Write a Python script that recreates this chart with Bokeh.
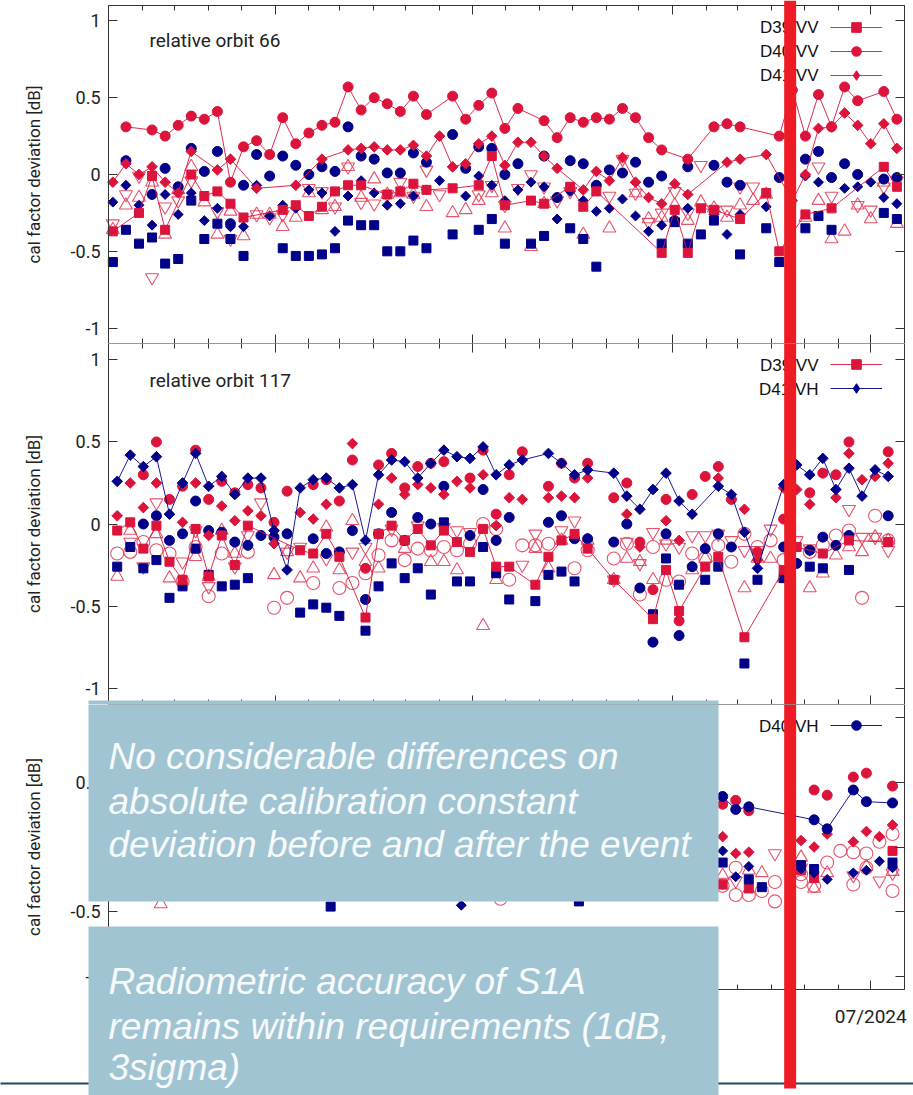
import pandas as pd
from bokeh.plotting import figure
from bokeh.layouts import column
from bokeh.models import (Range1d, FixedTicker, DatetimeTickFormatter, LinearAxis,
                          DatetimeAxis, BoxAnnotation, Label, Legend, LegendItem,
                          ColumnDataSource)
from bokeh.embed import file_html
from bokeh.resources import INLINE

N = None

# ---------------- data ----------------
# relative orbit 66 (12-day repeat)
P1_DATES = ["2022-07-24", "2022-08-05",
            "2022-08-17", "2022-08-29", "2022-09-10", "2022-09-22", "2022-10-04", "2022-10-16", "2022-10-28", "2022-11-09", "2022-11-21", "2022-12-03",
            "2022-12-15", "2022-12-27", "2023-01-08", "2023-01-20", "2023-02-01", "2023-02-13", "2023-02-25", "2023-03-09", "2023-03-21", "2023-04-02",
            "2023-04-14", "2023-04-26", "2023-05-08", "2023-05-20", "2023-06-01", "2023-06-13", "2023-06-25", "2023-07-07", "2023-07-19", "2023-07-31",
            "2023-08-12", "2023-08-24", "2023-09-05", "2023-09-17", "2023-09-29", "2023-10-11", "2023-10-23", "2023-11-04", "2023-11-16", "2023-11-28",
            "2023-12-10", "2023-12-22", "2024-01-03", "2024-01-15", "2024-01-27", "2024-02-08", "2024-02-20", "2024-03-03", "2024-03-15", "2024-03-27",
            "2024-04-08", "2024-04-20", "2024-05-02", "2024-05-14", "2024-05-26", "2024-06-07", "2024-06-19", "2024-07-01", "2024-07-13", "2024-07-25"]
P1_D40VV = [N, N,
            0.31, N, 0.29, 0.25, 0.32, 0.38, 0.36, 0.41, -0.05, 0.18,
            0.22, 0.13, 0.37, 0.20, 0.27, 0.32, 0.34, 0.57, 0.42, 0.50,
            0.46, 0.41, 0.51, 0.39, N, 0.51, 0.36, 0.45, 0.53, 0.30,
            0.43, N, 0.35, 0.24, 0.37, 0.34, 0.37, 0.36, 0.43, 0.37,
            0.24, 0.16, N, 0.10, N, 0.31, 0.33, 0.31, N, N,
            0.25, 0.55, 0.25, 0.52, 0.31, 0.57, 0.48, N, 0.54, 0.36]
P1_D41VV = [N, -0.05,
            0.07, 0.00, 0.05, -0.05, -0.12, 0.15, N, 0.03, 0.10, N,
            -0.09, N, N, -0.07, N, 0.10, N, 0.16, 0.17, 0.18,
            0.16, 0.16, 0.19, 0.12, 0.25, 0.05, 0.07, 0.20, 0.25, 0.06,
            0.21, 0.21, 0.12, 0.04, N, -0.10, 0.02, -0.04, 0.11, -0.05,
            -0.15, -0.19, -0.06, -0.13, N, N, 0.08, 0.10, N, 0.13,
            N, -0.17, 0.00, 0.30, 0.31, 0.40, 0.32, 0.20, 0.33, 0.17]
P1_D39VV = [N, -0.37,
            N, -0.25, -0.01, -0.36, N, 0.00, -0.14, -0.11, -0.19, -0.28,
            N, N, -0.23, -0.20, -0.27, -0.21, -0.11, -0.07, -0.07, N,
            -0.13, -0.11, -0.06, -0.10, N, -0.09, N, -0.07, 0.12, -0.20,
            N, -0.17, -0.19, N, -0.08, -0.21, -0.11, N, N, N,
            N, -0.51, -0.23, -0.51, -0.22, -0.23, N, -0.29, N, -0.12,
            -0.50, N, -0.26, N, -0.22, N, N, N, 0.05, -0.08]
P1_D40VH = [N, N,
            0.09, N, -0.13, 0.04, -0.08, 0.17, 0.02, 0.15, -0.32, -0.07,
            0.13, -0.01, 0.12, 0.06, 0.00, 0.05, 0.02, 0.31, 0.12, 0.10,
            0.01, 0.01, 0.14, 0.08, N, 0.26, 0.04, 0.18, 0.17, 0.00,
            0.07, N, 0.12, -0.15, 0.09, 0.07, -0.07, 0.03, 0.01, 0.08,
            -0.05, -0.01, -0.30, 0.05, N, 0.06, -0.05, -0.07, N, N,
            -0.02, N, 0.10, 0.15, -0.02, 0.07, 0.00, N, -0.03, -0.02]
P1_D41VH = [N, -0.18,
            -0.07, -0.20, -0.33, -0.13, -0.26, -0.12, -0.30, -0.22, -0.34, -0.34,
            -0.07, -0.27, -0.20, -0.22, -0.10, -0.12, -0.37, -0.14, -0.04, -0.12,
            -0.20, -0.19, -0.14, -0.10, -0.04, 0.05, -0.14, -0.01, -0.07, -0.17,
            -0.10, -0.05, -0.08, -0.29, -0.11, -0.17, -0.24, -0.22, -0.16, -0.27,
            -0.37, -0.33, N, -0.22, N, -0.26, -0.39, -0.26, N, -0.21,
            N, N, -0.01, -0.05, N, -0.09, -0.08, -0.05, -0.15, -0.19]
P1_D39VH = [N, -0.57,
            -0.36, -0.45, -0.41, -0.58, -0.55, -0.17, -0.42, -0.32, -0.42, -0.53,
            N, N, -0.48, -0.53, -0.53, -0.52, -0.48, -0.30, -0.33, -0.33,
            -0.50, -0.50, -0.43, -0.48, N, -0.39, N, -0.36, -0.29, -0.45,
            N, -0.45, -0.40, N, -0.35, -0.42, -0.60, N, N, N,
            N, -0.45, -0.31, -0.45, -0.39, -0.30, N, -0.52, N, -0.35,
            -0.57, N, -0.35, -0.27, -0.36, N, N, N, -0.25, -0.29]
P1_UP = [N, -0.36,
         -0.20, -0.15, -0.05, -0.39, -0.10, 0.05, -0.18, -0.39, -0.24, -0.40,
         -0.26, -0.26, -0.34, -0.28, -0.12, -0.23, -0.21, 0.05, -0.15, -0.03,
         -0.13, -0.12, -0.13, -0.21, N, -0.25, -0.23, -0.17, -0.12, -0.35,
         N, -0.47, -0.19, N, N, -0.39, N, -0.35, N, -0.12,
         -0.29, -0.28, -0.20, -0.30, -0.18, -0.22, -0.28, -0.20, -0.17, -0.13,
         N, N, -0.28, -0.17, -0.42, -0.37, -0.20, -0.29, -0.05, -0.32]
P1_DOWN = [N, -0.32,
           -0.13, -0.01, -0.67, -0.21, -0.17, -0.04, N, -0.24, -0.42, N,
           -0.26, -0.28, -0.26, N, -0.09, -0.11, -0.21, 0.05, -0.18, -0.19,
           -0.13, -0.05, -0.14, 0.03, -0.13, N, N, -0.13, -0.07, -0.20,
           -0.09, 0.00, -0.08, -0.17, -0.11, N, N, -0.14, 0.10, -0.12,
           -0.31, -0.25, -0.11, -0.25, 0.06, -0.23, -0.23, -0.08, -0.08, N,
           N, N, N, 0.05, -0.14, N, -0.20, -0.23, -0.08, -0.04]

# relative orbit 117
P2_DATES = ["2022-07-28",
            "2022-08-09", "2022-08-21", "2022-09-02", "2022-09-14", "2022-09-26", "2022-10-08", "2022-10-20", "2022-11-01", "2022-11-13", "2022-11-25",
            "2022-12-07", "2022-12-19", "2022-12-31", "2023-01-12", "2023-01-24", "2023-02-05", "2023-02-17", "2023-03-01", "2023-03-13", "2023-03-25",
            "2023-04-06", "2023-04-18", "2023-04-30", "2023-05-12", "2023-05-24", "2023-06-05", "2023-06-17", "2023-06-29", "2023-07-11", "2023-07-23",
            "2023-08-04", "2023-08-16", "2023-08-28", "2023-09-09", "2023-09-21", "2023-10-03", "2023-10-15", "2023-10-27", "2023-11-08", "2023-11-20",
            "2023-12-02", "2023-12-14", "2023-12-26", "2024-01-07", "2024-01-19", "2024-01-31", "2024-02-12", "2024-02-24", "2024-03-07", "2024-03-19",
            "2024-03-31", "2024-04-12", "2024-04-24", "2024-05-06", "2024-05-18", "2024-05-30", "2024-06-11", "2024-06-23", "2024-07-05", "2024-07-17"]
P2_D41VH = [N,
            0.26, 0.42, 0.35, 0.41, 0.06, 0.25, 0.43, 0.23, 0.29, 0.18,
            0.28, 0.28, -0.04, -0.28, 0.22, 0.27, 0.28, 0.22, 0.24, -0.10,
            0.30, 0.39, 0.38, 0.28, 0.37, 0.45, 0.41, 0.40, 0.47, 0.30,
            0.36, 0.39, N, 0.43, 0.37, 0.30, 0.33, N, 0.31, 0.17,
            0.09, 0.21, 0.31, 0.14, 0.06, N, 0.23, 0.18, -0.05, -0.27,
            N, 0.24, 0.36, 0.30, 0.40, 0.21, 0.34, 0.17, 0.33, 0.29]
P2_D39VV = [N,
            -0.04, 0.01, -0.15, -0.01, -0.23, -0.34, -0.03, -0.32, -0.07, -0.25,
            -0.01, N, N, N, -0.16, -0.18, -0.06, -0.20, N, -0.57,
            -0.06, -0.01, -0.10, -0.03, -0.13, -0.04, -0.11, -0.17, -0.03, -0.26,
            -0.26, N, -0.37, -0.20, -0.10, -0.06, -0.15, N, -0.34, N,
            N, -0.58, -0.28, -0.53, N, -0.26, -0.20, N, -0.69, N,
            N, -0.28, -0.14, N, -0.18, N, -0.10, N, N, -0.11]
P2_D40VV = [N,
            N, N, 0.30, 0.50, 0.15, 0.23, 0.45, 0.15, 0.26, 0.19,
            0.24, 0.22, 0.01, 0.20, N, 0.24, 0.27, 0.14, 0.39, -0.27,
            0.36, 0.43, 0.22, 0.35, 0.37, 0.38, N, 0.28, 0.45, 0.06,
            0.30, 0.44, N, 0.23, 0.37, 0.28, 0.37, N, 0.16, 0.25,
            -0.11, -0.40, 0.15, -0.59, 0.18, 0.29, 0.35, 0.15, N, -0.17,
            N, 0.03, N, 0.19, 0.31, 0.30, 0.50, N, N, 0.44]
P2_D41VV = [N,
            0.05, 0.25, 0.10, 0.25, N, 0.01, 0.25, -0.07, 0.11, 0.02,
            0.08, 0.05, -0.12, N, 0.07, 0.03, 0.12, N, 0.49, N,
            0.12, 0.28, 0.18, 0.24, 0.22, 0.18, 0.26, 0.22, 0.30, -0.01,
            0.16, 0.15, N, 0.16, 0.17, 0.16, 0.28, N, N, 0.06,
            -0.14, N, 0.02, -0.10, N, N, 0.28, 0.15, 0.09, -0.22,
            N, 0.22, 0.21, 0.12, N, 0.16, 0.43, 0.27, 0.29, 0.37]
P2_D40VH = [N,
            N, N, 0.00, 0.05, -0.10, -0.06, 0.14, -0.04, -0.05, -0.11,
            -0.13, -0.07, -0.08, -0.06, N, -0.09, -0.18, -0.17, -0.04, -0.46,
            -0.06, 0.07, -0.10, 0.04, 0.00, 0.23, N, -0.07, 0.21, -0.10,
            0.04, N, N, 0.01, 0.05, -0.09, -0.09, N, -0.11, 0.00,
            -0.39, -0.72, -0.06, -0.68, -0.26, -0.15, -0.06, -0.14, N, N,
            N, -0.14, -0.24, -0.16, -0.08, -0.13, -0.07, N, N, 0.05]
P2_D39VH = [N,
            -0.26, -0.14, -0.27, -0.22, -0.45, -0.38, -0.15, -0.31, -0.38, -0.37,
            -0.33, N, N, N, -0.54, -0.49, -0.51, -0.56, N, -0.65,
            -0.38, -0.24, -0.33, -0.27, -0.43, 0.01, -0.35, -0.35, -0.14, -0.30,
            -0.46, N, -0.47, -0.31, -0.29, -0.35, N, N, N, N,
            N, -0.55, -0.21, -0.37, N, -0.34, -0.26, N, -0.85, -0.34,
            N, -0.33, N, -0.26, -0.27, N, -0.28, N, N, N]
P2_CIRC = [N,
           -0.18, -0.17, -0.11, -0.16, -0.18, -0.35, -0.14, -0.44, -0.18, N,
           -0.17, N, -0.51, -0.45, N, -0.36, N, -0.39, -0.36, -0.30,
           -0.19, -0.10, -0.22, -0.15, -0.16, -0.14, -0.16, -0.12, 0.00, -0.03,
           -0.34, -0.13, -0.13, -0.12, N, -0.27, -0.16, N, -0.21, -0.12,
           -0.43, -0.14, -0.34, -0.35, -0.18, -0.21, -0.13, -0.23, -0.06, -0.14,
           -0.10, -0.22, N, -0.17, -0.13, -0.07, -0.04, -0.45, 0.05, -0.10]
P2_UP = [N,
         -0.32, -0.04, N, -0.06, -0.33, N, -0.20, -0.32, -0.04, -0.18,
         N, N, -0.31, -0.17, -0.33, -0.27, -0.02, -0.28, 0.02, -0.23,
         -0.27, N, -0.15, N, -0.23, -0.23, -0.28, N, -0.62, -0.34,
         N, N, -0.15, -0.27, -0.10, N, -0.10, N, -0.34, -0.21,
         -0.23, -0.34, -0.10, N, -0.28, -0.21, N, N, -0.39, -0.21,
         -0.21, -0.33, N, -0.39, -0.30, -0.19, -0.14, -0.17, -0.08, -0.10]
P2_DOWN = [N,
           N, -0.11, -0.26, 0.13, N, -0.23, -0.04, -0.38, N, -0.26,
           -0.07, 0.13, N, -0.17, -0.14, N, -0.21, N, -0.17, -0.14,
           N, -0.03, N, -0.01, N, -0.02, -0.04, -0.05, N, N,
           N, -0.25, -0.06, N, -0.04, 0.02, N, N, -0.34, -0.11,
           -0.24, -0.05, -0.12, -0.14, -0.07, -0.07, -0.06, -0.10, -0.16, -0.16,
           -0.03, N, -0.10, -0.15, N, N, 0.09, -0.08, -0.08, -0.16]

# third panel (only the part not hidden by the text boxes)
P3_DATES = ["2022-09-18", "2023-02-21", "2023-06-21", "2023-07-27", "2023-10-07",
            "2024-02-04", "2024-02-16", "2024-02-28", "2024-03-11", "2024-03-23",
            "2024-04-04", "2024-04-16", "2024-04-28", "2024-05-10", "2024-05-22",
            "2024-06-03", "2024-06-15", "2024-06-27", "2024-07-09", "2024-07-21"]
P3_D40VH = [N, N, N, N, N, 0.40, 0.39, 0.29, 0.31, N, N, N, N, 0.21, 0.14, N, 0.44, 0.35, N, 0.34]
P3_D40VV = [N, N, N, N, N, N, 0.33, 0.36, 0.28, N, N, N, N, 0.44, 0.40, N, 0.54, 0.57, N, 0.47]
P3_D41VV = [N, N, N, N, N, N, 0.08, -0.05, -0.04, N, N, N, 0.05, 0.00, 0.10, N, 0.04, 0.12, 0.08, 0.17]
P3_D41VH = [N, N, -0.45, N, N, N, -0.03, -0.23, -0.15, N, N, N, -0.17, -0.20, -0.25, N, -0.20, -0.18, -0.11, -0.16]
P3_D39VH = [N, -0.46, N, N, -0.42, N, -0.12, N, -0.25, -0.31, N, N, -0.14, -0.17, N, N, N, N, N, -0.12]
P3_D39VV = [N, N, N, N, N, N, -0.29, N, -0.32, N, N, N, -0.18, -0.24, N, N, N, N, N, -0.03]
P3_CIRC = [N, N, N, -0.40, N, N, -0.30, -0.16, -0.37, -0.34, -0.27, N, -0.27, -0.30, -0.12, -0.03, -0.04, -0.05, 0.04, 0.10]
P3_CIRC2 = [N, N, N, N, N, N, N, -0.37, N, N, -0.42, N, -0.21, N, N, N, -0.29, -0.16, N, -0.34]
P3_UP = [-0.44, N, N, N, N, N, -0.22, N, -0.18, -0.20, N, N, -0.08, -0.32, -0.20, N, N, -0.15, N, -0.19]
P3_DOWN = [N, N, N, N, N, N, -0.27, -0.26, N, N, -0.05, N, -0.16, N, N, N, -0.22, N, -0.26, -0.20]

X_START, X_END = "2022-08-01", "2024-08-01"
Y_MIN, Y_MAX = -1.1, 1.1
MAJOR_TICKS = ["2023-01-01", "2023-07-01", "2024-01-01", "2024-07-01"]
Y_TICKS = [-1.0, -0.5, 0.0, 0.5, 1.0]
Y_TICK_LABELS = ["-1", "-0.5", "0", "0.5", "1"]
Y_TITLE = "cal factor deviation [dB]"
EVENT_DATE = "2024-04-18"
TEXT_BOX_1 = ["No considerable differences on", "absolute calibration constant",
              "deviation before and after the event"]
TEXT_BOX_2 = ["Radiometric accuracy of S1A", "remains within requirements (1dB,", "3sigma)"]

# ---------------- styling / layout ----------------
RED = "#dc143c"
NAVY = "#00008b"
OPEN = "#e2405c"
EVENT_RED = "#ed1b24"
BOX = "#a1c4d3"
FOOTER = "#1c4862"
TXT = "#222222"
FRAME = "#333333"
DAY = 86400000.0
WIDTH = 913
PX_LEFT, PX_RIGHT = 108, 904      # plot box left / right edge in the page
BASE_FIX = 0.37                   # baseline correction (fraction of font size)


def ms(d):
    return pd.Timestamp(d).value / 1e6


MINOR_TICKS = [ms(d) for d in pd.date_range(X_START, X_END, freq="MS")]
FMT_KEYS = ["microseconds", "milliseconds", "seconds", "minsec", "minutes",
            "hourmin", "hours", "days", "months", "years"]


def x_extent():
    a, b = ms(X_START), ms(X_END)
    s = (b - a) / (PX_RIGHT - PX_LEFT)
    return a - PX_LEFT * s, b + (WIDTH - PX_RIGHT) * s


def y_extent(py_top, py_bot, height):
    s = (Y_MAX - Y_MIN) / (py_bot - py_top)
    return Y_MIN - (height - py_bot) * s, Y_MAX + py_top * s


def text(p, x, y, t, size, font="Roboto", color=TXT, align="left", style="normal", level="annotation"):
    # y: alphabetic baseline, measured upward from the panel bottom
    p.add_layout(Label(x=x, y=y + BASE_FIX * size, x_units="screen", y_units="screen", text=t,
                       text_align=align, text_baseline="alphabetic", text_font=font,
                       text_font_size=f"{size}px", text_font_style=style,
                       text_color=color, level=level))


def tick_style(ax, show, size="18px", ticks=True):
    ax.axis_line_color = FRAME
    ax.axis_line_width = 1
    ax.major_tick_in = 9 if ticks else 0
    ax.major_tick_out = 0
    ax.minor_tick_in = 5 if ticks else 0
    ax.minor_tick_out = 0
    ax.major_tick_line_color = FRAME
    ax.minor_tick_line_color = FRAME
    if show:
        ax.major_label_text_font = "Roboto"
        ax.major_label_text_font_size = size
        ax.major_label_text_color = TXT
    else:
        ax.major_label_text_font_size = "0px"
        ax.major_label_text_alpha = 0
        ax.major_label_standoff = 0


def make_panel(height, py_top, py_bot, top_ticks, x_labels):
    p = figure(width=WIDTH, height=height, x_axis_type="datetime",
               x_range=Range1d(*x_extent()), y_range=Range1d(*y_extent(py_top, py_bot, height)),
               output_backend="svg", toolbar_location=None, min_border=0,
               min_border_left=0, min_border_right=0, min_border_top=0, min_border_bottom=0,
               outline_line_color=None,
               background_fill_color="white", border_fill_color="white")
    p.xgrid.visible = False
    p.ygrid.visible = False
    xbounds = (ms(X_START), ms(X_END))
    xt = FixedTicker(ticks=[ms(t) for t in MAJOR_TICKS], minor_ticks=MINOR_TICKS)
    yt = FixedTicker(ticks=Y_TICKS, minor_ticks=[])
    fmt = DatetimeTickFormatter(**{k: "%m/%Y" for k in FMT_KEYS})
    xa = p.xaxis[0]
    xa.ticker = xt
    xa.formatter = fmt
    xa.fixed_location = Y_MIN
    xa.bounds = xbounds
    tick_style(xa, x_labels, size="19px")
    if x_labels:
        xa.major_label_standoff = 15
    ya = p.yaxis[0]
    ya.ticker = yt
    ya.major_label_overrides = dict(zip(Y_TICKS, Y_TICK_LABELS))
    ya.fixed_location = ms(X_START)
    ya.bounds = (Y_MIN, Y_MAX)
    tick_style(ya, True)
    ya.major_label_standoff = 8
    ra = LinearAxis(ticker=yt, fixed_location=ms(X_END), bounds=(Y_MIN, Y_MAX))
    tick_style(ra, False)
    p.add_layout(ra, "right")
    ta = DatetimeAxis(ticker=xt, formatter=fmt, fixed_location=Y_MAX, bounds=xbounds)
    tick_style(ta, False, ticks=top_ticks)
    p.add_layout(ta, "above")
    # y-axis title
    p.add_layout(Label(x=33, y=height - (py_top + py_bot) / 2, x_units="screen", y_units="screen",
                       text=Y_TITLE, angle=90, angle_units="deg", text_align="center",
                       text_baseline="middle", text_font="Roboto", text_font_size="17px",
                       text_color=TXT))
    return p


def series(p, dates, vals, marker, color, filled, size, angle=0.0, line=False, key_marker=None):
    xs = [ms(d) for d, v in zip(dates, vals) if v is not None]
    ys = [v for v in vals if v is not None]
    src = ColumnDataSource(dict(x=xs, y=ys))
    rl = None
    if line:
        rl = p.line("x", "y", source=src, line_color=color, line_width=1, line_alpha=0.9)
    rs = p.scatter("x", "y", source=src, marker=marker, size=size, angle=angle,
                   fill_color=color if filled else None, line_color=color,
                   line_width=1 if filled else 1.1, line_alpha=1 if filled else 0.9)
    if key_marker is not None:
        # marker used only for the key sample (hidden in the plot)
        rs = p.scatter("x", "y", source=src, marker=key_marker, size=size,
                       fill_color=color, line_color=color, visible=False)
    return rl, rs


def key(p, entries, vy, text_ys):
    items = [LegendItem(label=" ", renderers=[rl, rs]) for rl, rs, _ in entries]
    lg = Legend(items=items, location=(830, vy), orientation="vertical",
                glyph_width=52, glyph_height=24, label_width=0, label_height=0,
                label_standoff=0, label_text_font_size="1px", padding=0, spacing=0,
                margin=0, border_line_color=None, background_fill_alpha=0)
    p.add_layout(lg)
    for (_, _, name), ty in zip(entries, text_ys):
        text(p, 818, ty, name, 17, font="Liberation Sans", color="#111111", align="right")


def event_line(p, bottom=None):
    p.add_layout(BoxAnnotation(left=ms(EVENT_DATE) - 5.5 * DAY, right=ms(EVENT_DATE) + 5.5 * DAY,
                               bottom=bottom, bottom_units="screen",
                               fill_color=EVENT_RED, fill_alpha=1.0, line_color=None,
                               level="overlay"))


def screen_box(p, left, right, top, bottom, color, level="annotation"):
    p.add_layout(BoxAnnotation(left=left, right=right, top=top, bottom=bottom,
                               left_units="screen", right_units="screen",
                               top_units="screen", bottom_units="screen",
                               fill_color=color, fill_alpha=1.0, line_color=None, level=level))


D = 3.14159265 / 4

# ---------------- panel 1 : page y 0..343, plot box 5..343 ----------------
p1 = make_panel(343, 5, 343, True, False)
series(p1, P1_DATES, P1_UP, "triangle", OPEN, False, 13)
series(p1, P1_DATES, P1_DOWN, "inverted_triangle", OPEN, False, 13)
series(p1, P1_DATES, P1_D39VH, "square", NAVY, True, 9)
series(p1, P1_DATES, P1_D41VH, "square", NAVY, True, 7, angle=D)
series(p1, P1_DATES, P1_D40VH, "circle", NAVY, True, 10)
a1 = series(p1, P1_DATES, P1_D39VV, "square", RED, True, 9, line=True)
a2 = series(p1, P1_DATES, P1_D40VV, "circle", RED, True, 10, line=True)
a3 = series(p1, P1_DATES, P1_D41VV, "square", RED, True, 7.5, angle=D, line=True, key_marker="diamond")
key(p1, [(a1[0], a1[1], "D39 VV"), (a2[0], a2[1], "D40 VV"), (a3[0], a3[1], "D41 VV")],
    256, [310, 286, 262])
text(p1, 149, 296, "relative orbit 66", 19)
event_line(p1)

# ---------------- panel 2 : page y 343..704 ----------------
p2 = make_panel(361, 0, 361, True, False)
series(p2, P2_DATES, P2_CIRC, "circle", OPEN, False, 13)
series(p2, P2_DATES, P2_UP, "triangle", OPEN, False, 13)
series(p2, P2_DATES, P2_DOWN, "inverted_triangle", OPEN, False, 13)
series(p2, P2_DATES, P2_D39VH, "square", NAVY, True, 9)
series(p2, P2_DATES, P2_D40VH, "circle", NAVY, True, 10)
series(p2, P2_DATES, P2_D40VV, "circle", RED, True, 10)
series(p2, P2_DATES, P2_D41VV, "square", RED, True, 7.5, angle=D)
b1 = series(p2, P2_DATES, P2_D39VV, "square", RED, True, 9, line=True)
b2 = series(p2, P2_DATES, P2_D41VH, "square", NAVY, True, 7.5, angle=D, line=True, key_marker="diamond")
key(p2, [(b1[0], b1[1], "D39 VV"), (b2[0], b2[1], "D41 VH")], 304, [333, 309])
text(p2, 149, 317, "relative orbit 117", 19)
screen_box(p2, 88, 718, 4, -5, BOX)
event_line(p2)

# ---------------- panel 3 : page y 704..1095, plot box 704..989 ----------------
p3 = make_panel(391, 0, 285, False, True)
series(p3, P3_DATES, P3_CIRC, "circle", OPEN, False, 13)
series(p3, P3_DATES, P3_CIRC2, "circle", OPEN, False, 13)
series(p3, P3_DATES, P3_UP, "triangle", OPEN, False, 13)
series(p3, P3_DATES, P3_DOWN, "inverted_triangle", OPEN, False, 13)
series(p3, P3_DATES, P3_D39VV, "square", RED, True, 9)
series(p3, P3_DATES, P3_D39VH, "square", NAVY, True, 9)
series(p3, P3_DATES, P3_D41VH, "square", NAVY, True, 7, angle=D)
series(p3, P3_DATES, P3_D41VV, "square", RED, True, 7.5, angle=D)
series(p3, P3_DATES, P3_D40VV, "circle", RED, True, 10)
c1 = series(p3, P3_DATES, P3_D40VH, "circle", NAVY, True, 10, line=True)
key(p3, [(c1[0], c1[1], "D40 VH")], 358, [363])

screen_box(p3, -10, 920, 13, 11, FOOTER)
screen_box(p3, 88, 718, 400, 194, BOX)
screen_box(p3, 88, 718, 169, -10, BOX)
for lines, ys in [(TEXT_BOX_1, [325, 280, 237]), (TEXT_BOX_2, [100, 55, 14])]:
    for t, y in zip(lines, ys):
        text(p3, 108, y, t, 37, font="Liberation Sans", color="#f7fafb", style="italic",
             level="overlay")
event_line(p3, bottom=7)

layout = column(p1, p2, p3)
open("out.html", "w").write(file_html(layout, INLINE))
